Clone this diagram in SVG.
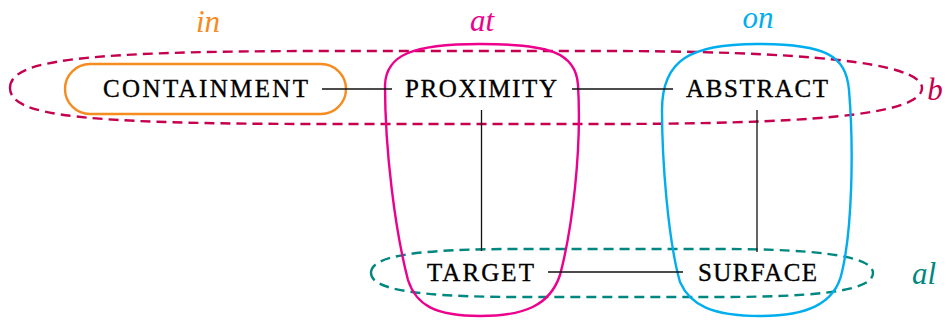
<svg xmlns="http://www.w3.org/2000/svg" width="945" height="320" viewBox="0 0 945 320">
<style>
.n{font-family:"Liberation Serif","DejaVu Serif",serif;font-size:25px;fill:#000;stroke:#000;stroke-width:0.35;text-anchor:middle}
.lab{font-family:"Liberation Serif","DejaVu Serif",serif;font-style:italic;font-size:31px;text-anchor:middle}
.e{stroke:#111;stroke-width:1.3;fill:none}
.set{fill:none;stroke-width:2.4}
.dash{fill:none;stroke-width:2.4;stroke-dasharray:10 6}
</style>
<rect width="945" height="320" fill="#fff"/>
<g id="sets">
<path id="set-b" class="dash" stroke="#C4004F" d="M10,88 C10,60 80,51 330,51 L600,51 C800,51 922,62 922,88 C922,116 800,124 600,124 L330,124 C80,124 10,116 10,88 Z"/>
<path id="set-al" class="dash" stroke="#00877F" d="M371,273 C371,255 420,249 520,249 L720,249 C830,249 873,258 873,273 C873,289 830,297 720,297 L520,297 C420,297 371,290 371,273 Z"/>
<rect id="set-in" class="set" stroke="#F68B1F" x="65" y="64" width="281" height="50" rx="25"/>
<path id="set-at" class="set" stroke="#EC008C" d="M480,44 C548,44 576,52 578,85 C582,150 572,230 560,275 C550,305 525,316 480,316 C435,316 416,305 408,280 C395,230 385,150 385,85 C386,55 412,44 480,44 Z"/>
<path id="set-on" class="set" stroke="#00AEEF" d="M757,44 C825,44 846,55 849,90 C854,150 852,230 842,272 C835,305 805,316 760,316 C712,316 690,305 680,282 C668,240 662,160 662,110 C662,60 690,44 757,44 Z"/>
</g>
<g id="connectors">
<line class="e" x1="322" y1="89" x2="392" y2="89"/>
<line class="e" x1="572" y1="89" x2="673" y2="89"/>
<line class="e" x1="481.5" y1="110" x2="481.5" y2="251"/>
<line class="e" x1="757" y1="110" x2="757" y2="252"/>
<line class="e" x1="548" y1="272" x2="683" y2="272"/>
</g>
<g id="node-containment"><text class="n" x="205.5" y="97" textLength="205" lengthAdjust="spacing">CONTAINMENT</text></g>
<g id="node-proximity"><text class="n" x="481" y="97" textLength="152" lengthAdjust="spacing">PROXIMITY</text></g>
<g id="node-abstract"><text class="n" x="757" y="97" textLength="142" lengthAdjust="spacing">ABSTRACT</text></g>
<g id="node-target"><text class="n" x="480.5" y="281" textLength="107" lengthAdjust="spacing">TARGET</text></g>
<g id="node-surface"><text class="n" x="757.5" y="281" textLength="119" lengthAdjust="spacing">SURFACE</text></g>
<g id="labels">
<text class="lab" x="208" y="32" fill="#F68B1F">in</text>
<text class="lab" x="482" y="31" fill="#EC008C">at</text>
<text class="lab" x="758" y="28" fill="#00AEEF">on</text>
<text class="lab" x="935" y="100" fill="#C4004F">b</text>
<text class="lab" x="924" y="284" fill="#00877F">al</text>
</g>
</svg>
